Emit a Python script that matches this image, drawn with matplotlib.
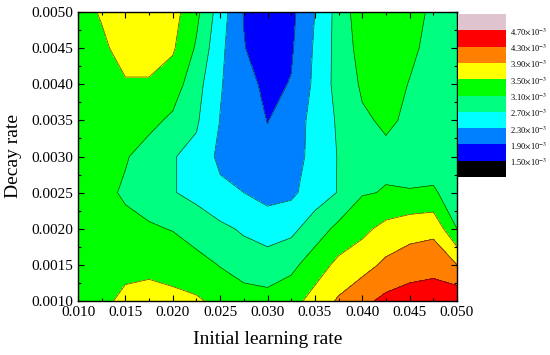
import numpy as np
import matplotlib.pyplot as plt
from matplotlib.colors import ListedColormap, BoundaryNorm
from matplotlib.cm import ScalarMappable
from matplotlib.ticker import MultipleLocator, FormatStrFormatter

plt.rcParams['font.family'] = ['Liberation Serif', 'DejaVu Serif']
plt.rcParams['mathtext.fontset'] = 'stix'

# grid axes
lr = [0.0100, 0.0125, 0.0150, 0.0175, 0.0200, 0.0225, 0.0250, 0.0275, 0.0300,
      0.0325, 0.0350, 0.0375, 0.0400, 0.0425, 0.0450, 0.0475, 0.0500]
decay = [0.0010, 0.0015, 0.0020, 0.0025, 0.0030, 0.0035, 0.0040, 0.0045, 0.0050]

# loss values (x1e-3), one row per decay rate, bottom row first
loss_e3 = [
    [3.30, 3.40, 3.60, 3.65, 3.60, 3.55, 3.40, 3.30, 3.25, 3.35, 3.65, 3.95, 4.20, 4.40, 4.50, 4.55, 4.60],
    [3.30, 3.30, 3.38, 3.40, 3.35, 3.25, 3.08, 2.90, 2.85, 3.00, 3.30, 3.60, 3.75, 3.98, 4.10, 4.15, 3.90],
    [3.30, 3.25, 3.20, 3.15, 3.08, 2.90, 2.78, 2.65, 2.55, 2.60, 2.90, 3.20, 3.40, 3.62, 3.75, 3.80, 3.10],
    [3.25, 3.20, 3.05, 2.90, 2.72, 2.60, 2.40, 2.30, 2.15, 2.22, 2.50, 2.72, 3.07, 3.12, 3.12, 3.15, 2.90],
    [3.20, 3.20, 3.13, 2.95, 2.72, 2.60, 2.20, 2.10, 2.00, 2.10, 2.45, 2.72, 2.95, 3.03, 2.95, 2.90, 2.85],
    [3.20, 3.20, 3.25, 3.20, 3.03, 2.75, 2.29, 2.10, 1.89, 2.05, 2.45, 2.75, 3.05, 3.15, 3.05, 2.90, 2.85],
    [3.20, 3.25, 3.45, 3.45, 3.30, 2.85, 2.33, 2.05, 1.80, 1.92, 2.38, 2.85, 3.15, 3.30, 3.08, 2.90, 2.85],
    [3.30, 3.40, 3.70, 3.70, 3.55, 3.05, 2.40, 1.92, 1.65, 1.85, 2.35, 2.85, 3.25, 3.35, 3.20, 2.95, 2.85],
    [3.30, 3.55, 3.75, 3.80, 3.65, 3.20, 2.50, 1.88, 1.60, 1.80, 2.30, 2.85, 3.35, 3.40, 3.30, 3.00, 2.90],
]

levels_e3 = [1.50, 1.90, 2.30, 2.70, 3.10, 3.50, 3.90, 4.30, 4.70]
colors = ['#000000', '#0000FF', '#0080FF', '#00FFFF', '#00FF80',
          '#00FF00', '#FFFF00', '#FF8000', '#FF0000', '#DFC3CE']

Z = np.array(loss_e3) * 1e-3
levels = [v * 1e-3 for v in levels_e3]
bounds = [1.1e-3] + levels + [5.1e-3]
cmap = ListedColormap(colors)
norm = BoundaryNorm(bounds, cmap.N)

fig = plt.figure(figsize=(5.5, 3.55), dpi=100)
ax = fig.add_axes([78 / 550, 54 / 355, 379 / 550, 289 / 355])

ax.contourf(lr, decay, Z, levels=bounds, cmap=cmap, norm=norm)
ax.contour(lr, decay, Z, levels=levels, colors='#1a1a1a', linewidths=0.5, alpha=0.8)

ax.set_xlim(0.010, 0.050)
ax.set_ylim(0.0010, 0.0050)
ax.xaxis.set_major_locator(MultipleLocator(0.005))
ax.xaxis.set_minor_locator(MultipleLocator(0.0025))
ax.yaxis.set_major_locator(MultipleLocator(0.0005))
ax.yaxis.set_minor_locator(MultipleLocator(0.00025))
ax.xaxis.set_major_formatter(FormatStrFormatter('%.3f'))
ax.yaxis.set_major_formatter(FormatStrFormatter('%.4f'))
ax.tick_params(which='both', direction='in', top=True, right=True, labelsize=11)
ax.tick_params(which='major', length=4, width=0.8)
ax.tick_params(which='minor', length=2.5, width=0.8)
for s in ax.spines.values():
    s.set_linewidth(1.0)

ax.set_xlabel('Initial learning rate', fontsize=14, labelpad=9)
ax.set_ylabel('Decay rate', fontsize=14, labelpad=7)

# colour bar
cax = fig.add_axes([458 / 550, 178 / 355, 48 / 550, 163 / 355])
cb = fig.colorbar(ScalarMappable(norm=norm, cmap=cmap), cax=cax, ticks=levels)
cb.ax.set_yticklabels([rf'{v:.2f}$\times$10$^{{-3}}$' for v in levels_e3])
cb.outline.set_visible(False)
cax.minorticks_off()
cax.tick_params(which='both', length=0, labelsize=6, pad=3)

fig.savefig('out.png', dpi=100)
